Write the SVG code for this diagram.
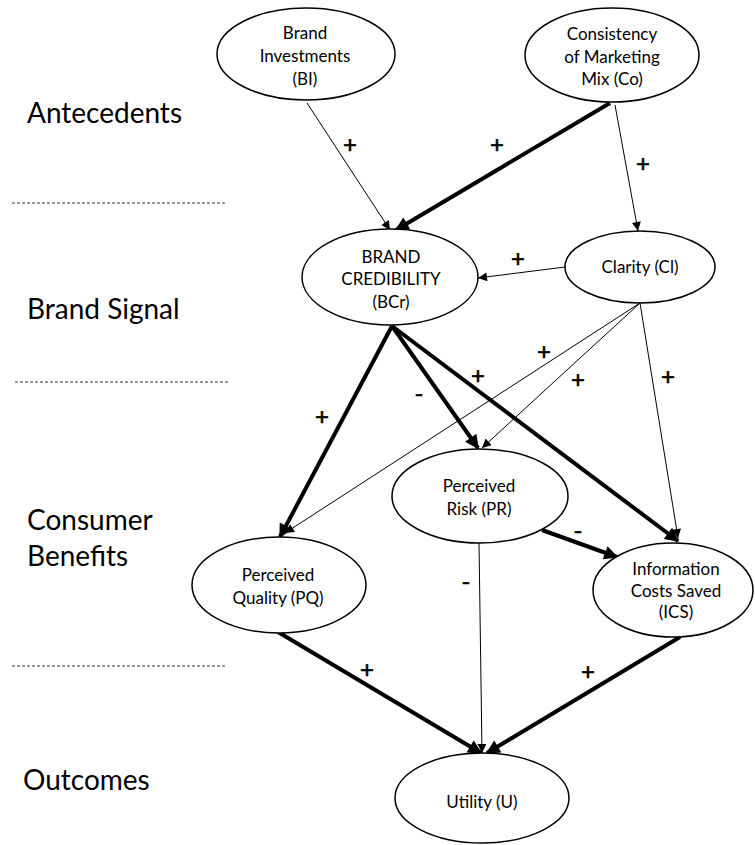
<svg xmlns="http://www.w3.org/2000/svg" width="755" height="845" viewBox="0 0 755 845">
<style>
.node ellipse{fill:#fff;stroke:#000;stroke-width:1.5}
.node text{font-family:Lato,"Liberation Sans",sans-serif;font-size:17px;fill:#000;text-anchor:middle}
.layer{font-family:Lato,"Liberation Sans",sans-serif;font-size:28px;fill:#000}
.sign{font-family:Lato,"Liberation Sans",sans-serif;font-size:24px;fill:#000;stroke:#000;stroke-width:0.6;text-anchor:middle;dominant-baseline:central}
.thin{stroke:#000;stroke-width:1;fill:none;marker-end:url(#ah)}
.thick{stroke:#000;stroke-width:4;fill:none;marker-end:url(#ahb)}
.dash{stroke:#333;stroke-width:1;stroke-dasharray:3 2}
</style>
<defs>
<marker id="ah" viewBox="0 0 10 10" refX="10" refY="5" markerWidth="12" markerHeight="9" markerUnits="userSpaceOnUse" orient="auto"><path d="M0,0 L10,5 L0,10 z" fill="#000"/></marker>
<marker id="ahb" viewBox="0 0 10 10" refX="9" refY="5" markerWidth="16" markerHeight="14" markerUnits="userSpaceOnUse" orient="auto"><path d="M0,0 L10,5 L0,10 z" fill="#000"/></marker>
</defs>
<rect width="755" height="845" fill="#fff"/>
<g id="layers">
<text class="layer" x="27" y="123">Antecedents</text>
<text class="layer" x="27" y="319">Brand Signal</text>
<text class="layer" x="27" y="530">Consumer</text>
<text class="layer" x="27" y="566">Benefits</text>
<text class="layer" x="23" y="790">Outcomes</text>
<line class="dash" x1="12" y1="203" x2="225" y2="203"/>
<line class="dash" x1="15" y1="382" x2="228" y2="382"/>
<line class="dash" x1="12" y1="666" x2="225" y2="666"/>
</g>
<g id="connectors">
<line class="thin" x1="307" y1="103" x2="390" y2="230"/>
<line class="thick" x1="610" y1="103" x2="396" y2="230"/>
<line class="thin" x1="615" y1="105" x2="638" y2="231"/>
<line class="thin" x1="565" y1="267" x2="478" y2="278"/>
<line class="thick" x1="392" y1="326" x2="280" y2="537"/>
<line class="thick" x1="392" y1="326" x2="478" y2="448"/>
<line class="thick" x1="392" y1="326" x2="678" y2="541"/>
<line class="thin" x1="640" y1="303" x2="285" y2="533"/>
<line class="thin" x1="640" y1="303" x2="482" y2="448"/>
<line class="thin" x1="640" y1="303" x2="678" y2="538"/>
<line class="thick" x1="542" y1="530" x2="617" y2="557"/>
<line class="thin" x1="479" y1="543" x2="482" y2="753"/>
<line class="thick" x1="278" y1="632" x2="481" y2="753"/>
<line class="thick" x1="680" y1="637" x2="487" y2="753"/>
<text class="sign" x="350" y="143">+</text>
<text class="sign" x="497" y="143">+</text>
<text class="sign" x="643" y="162">+</text>
<text class="sign" x="518" y="257">+</text>
<text class="sign" x="322" y="415">+</text>
<text class="sign" x="419" y="392">-</text>
<text class="sign" x="478" y="374">+</text>
<text class="sign" x="544" y="350">+</text>
<text class="sign" x="578" y="378">+</text>
<text class="sign" x="668" y="375">+</text>
<text class="sign" x="578" y="529">-</text>
<text class="sign" x="466" y="580">-</text>
<text class="sign" x="367" y="668">+</text>
<text class="sign" x="588" y="670">+</text>
</g>
<g id="BI" class="node"><ellipse cx="306" cy="54" rx="89" ry="46"/><text x="305" y="39">Brand</text><text x="305" y="62">Investments</text><text x="305" y="85">(BI)</text></g>
<g id="Co" class="node"><ellipse cx="612" cy="55" rx="87" ry="47"/><text x="612" y="40">Consistency</text><text x="612" y="63">of Marketing</text><text x="612" y="85">Mix (Co)</text></g>
<g id="BCr" class="node"><ellipse cx="390" cy="277" rx="88" ry="48"/><text x="391" y="263">BRAND</text><text x="391" y="285">CREDIBILITY</text><text x="391" y="308">(BCr)</text></g>
<g id="Cl" class="node"><ellipse cx="640" cy="267" rx="75" ry="36"/><text x="640" y="273">Clarity (Cl)</text></g>
<g id="PR" class="node"><ellipse cx="480" cy="496" rx="88" ry="47"/><text x="479" y="492">Perceived</text><text x="479" y="515">Risk (PR)</text></g>
<g id="PQ" class="node"><ellipse cx="279" cy="585" rx="87" ry="48"/><text x="278" y="581">Perceived</text><text x="278" y="604">Quality (PQ)</text></g>
<g id="ICS" class="node"><ellipse cx="673" cy="590" rx="80" ry="47"/><text x="676" y="575">Information</text><text x="676" y="597">Costs Saved</text><text x="676" y="618">(ICS)</text></g>
<g id="U" class="node"><ellipse cx="482" cy="798" rx="87" ry="45"/><text x="482" y="808">Utility (U)</text></g>
</svg>
